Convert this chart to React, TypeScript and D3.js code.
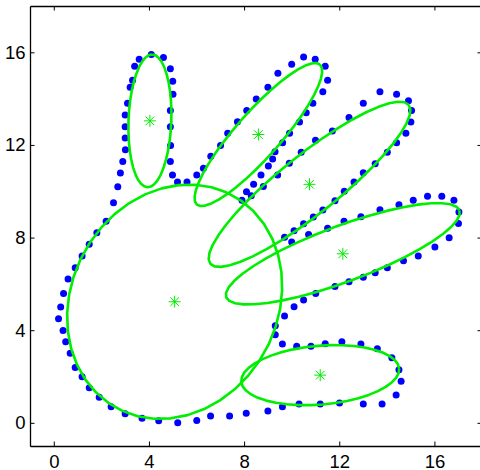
import { useEffect, useRef } from 'react';
import * as d3 from 'd3';

// hand outline points (blue dots), traced around the hand
const handX = [
  5.21, 4.41, 3.71, 3.0, 2.41, 1.91, 1.49, 1.19, 0.9, 0.69, 0.5, 0.39, 0.2, 0.29, 0.41, 0.6, 0.9, 1.19, 1.49, 1.81,
  2.2, 2.51, 2.69, 2.8, 2.9, 3.01, 3.0, 3.0, 3.0, 3.1, 3.21, 3.31, 3.4, 3.59, 4.1, 4.61, 4.9, 5.0, 5.01, 4.9,
  4.9, 4.91, 4.9, 4.99, 5.2, 5.6, 6.01, 6.29, 6.6, 7.01, 7.31, 7.72, 8.11, 8.51, 9.0, 9.42, 10.0, 10.5, 10.99, 11.41,
  11.51, 11.31, 10.89, 10.61, 10.33, 9.91, 9.62, 9.3, 9.2, 9.02, 8.71, 8.4, 8.1, 7.91,
  8.3, 8.81, 9.41, 9.9, 10.4, 11.0, 11.71, 12.41, 13.01, 13.71, 14.41, 14.91, 15.04, 15.01, 14.8, 14.41, 14.02, 13.51,
  13.01, 12.62, 12.21, 11.82, 11.31, 10.91, 10.5, 10.1, 9.7,
  10.0, 10.71, 11.51, 12.2, 12.91, 13.71, 14.51, 15.11, 15.71, 16.31, 16.82, 17.03, 17.01, 16.62, 16.02, 15.32, 14.7,
  14.02, 13.51, 13.01, 12.41, 11.82, 11.01, 10.5, 10.1, 9.7, 9.31, 9.31,
  9.61, 10.21, 10.81, 11.41, 12.11, 12.91, 13.6, 14.21, 14.51, 14.6, 14.39, 13.8, 13.01, 12.01, 11.2, 10.31, 9.61,
  9.0, 8.09, 7.39, 6.59, 6.01,
];
const handY = [
  0.0, 0.09, 0.2, 0.39, 0.69, 1.1, 1.51, 1.99, 2.39, 3.0, 3.5, 3.99, 4.49, 5.0, 5.59, 6.21, 6.7, 7.2, 7.71, 8.21,
  8.7, 9.5, 10.19, 10.79, 11.29, 11.79, 12.3, 12.79, 13.29, 13.8, 14.49, 14.79, 15.4, 15.7, 15.91, 15.78, 15.29, 14.75, 14.19, 13.49,
  12.79, 11.98, 11.29, 10.7, 10.4, 10.4, 10.7, 10.99, 11.51, 11.98, 12.5, 13.0, 13.49, 13.98, 14.49, 15.1, 15.49, 15.8, 15.7, 15.4,
  14.79, 14.3, 13.8, 13.39, 12.99, 12.5, 12.1, 11.71, 11.39, 11.09, 10.7, 10.3, 9.98, 9.61,
  9.81, 10.21, 10.7, 11.21, 11.69, 12.2, 12.6, 13.19, 13.8, 14.3, 14.19, 13.91, 13.49, 12.99, 12.5, 12.1, 11.69, 11.19,
  10.8, 10.4, 10.0, 9.59, 9.19, 8.89, 8.6, 8.3, 8.01,
  7.81, 8.13, 8.4, 8.7, 8.9, 9.2, 9.42, 9.61, 9.79, 9.79, 9.61, 9.1, 8.61, 7.99, 7.59, 7.2, 7.0,
  6.7, 6.48, 6.29, 6.09, 5.89, 5.59, 5.3, 5.01, 4.61, 4.19, 3.8,
  3.4, 3.31, 3.31, 3.41, 3.5, 3.4, 3.2, 2.81, 2.29, 1.8, 1.2, 0.81, 0.81, 0.86, 0.81, 0.81, 0.69,
  0.51, 0.41, 0.3, 0.3, 0.1,
];

// mixture components: centre, semi-axes, angle of major axis (degrees)
const compCx = [4.04, 8.6, 10.75, 12.15, 11.2, 5.08];
const compCy = [13.04, 12.45, 10.3, 7.3, 2.06, 5.23];
const compA = [2.87, 3.98, 5.4, 5.25, 3.33, 5.2];
const compB = [0.9, 0.95, 1.25, 1.2, 1.27, 4.36];
const compAngle = [88, 49.5, 39.5, 21, 5, 65];

const xTicks = [0, 4, 8, 12, 16];
const yTicks = [0, 4, 8, 12, 16];

const App = () => {
  const svgRef = useRef<SVGSVGElement>(null);

  useEffect(() => {
    const w = 480;
    const h = 470;
    const margin = { top: 6, bottom: 24, left: 30, right: -2 };

    const svg = d3.select(svgRef.current);
    svg.selectAll('*').remove();
    svg.attr('width', w).attr('height', h);

    const x = d3.scaleLinear().domain([-1, 18]).range([margin.left, w - margin.right]);
    const y = d3.scaleLinear().domain([-1, 18]).range([h - margin.bottom, margin.top]);

    // dots
    svg.append('g')
      .selectAll('circle')
      .data(d3.range(handX.length))
      .enter().append('circle')
      .attr('cx', i => x(handX[i]))
      .attr('cy', i => y(handY[i]))
      .attr('r', 3.5)
      .attr('fill', '#0000ff');

    // ellipses
    const line = d3.line<[number, number]>().x(d => x(d[0])).y(d => y(d[1]));
    const nSeg = 40;
    const eg = svg.append('g');
    compCx.forEach((cx, k) => {
      const th = (compAngle[k] * Math.PI) / 180;
      const pts: [number, number][] = d3.range(nSeg + 1).map(j => {
        const t = (2 * Math.PI * j) / nSeg;
        const u = compA[k] * Math.cos(t);
        const v = compB[k] * Math.sin(t);
        return [cx + u * Math.cos(th) - v * Math.sin(th), compCy[k] + u * Math.sin(th) + v * Math.cos(th)];
      });
      eg.append('path')
        .attr('d', line(pts))
        .attr('fill', 'none')
        .attr('stroke', '#00ee00')
        .attr('stroke-width', 2.6)
        .attr('stroke-linejoin', 'round');
    });

    // centre markers (asterisks)
    const r = 6;
    const q = r * 0.72;
    svg.append('g')
      .selectAll('path')
      .data(d3.range(compCx.length))
      .enter().append('path')
      .attr('transform', i => `translate(${x(compCx[i])},${y(compCy[i])})`)
      .attr('d', `M${-r},0L${r},0M0,${-r}L0,${r}M${-q},${-q}L${q},${q}M${-q},${q}L${q},${-q}`)
      .attr('stroke', '#00ee00')
      .attr('stroke-width', 1)
      .attr('fill', 'none');

    const font = "'Liberation Sans', Arial, Helvetica, sans-serif";
    const styleAxis = (g: any) => {
      g.attr('font-size', 18.5).attr('font-family', font);
      g.selectAll('path').attr('stroke-width', 1.3);
      g.selectAll('line').attr('stroke-width', 1);
      g.selectAll('text').attr('fill', '#000');
    };

    svg.append('g')
      .attr('transform', `translate(0, ${h - margin.bottom})`)
      .call(d3.axisBottom(x).tickValues(xTicks).tickSizeInner(-4.5).tickSizeOuter(0).tickPadding(9))
      .call(styleAxis);

    svg.append('g')
      .attr('transform', `translate(${margin.left}, 0)`)
      .call(d3.axisLeft(y).tickValues(yTicks).tickSizeInner(-4.5).tickSizeOuter(0).tickPadding(4.5))
      .call(styleAxis);

    svg.append('g')
      .attr('transform', `translate(0, ${margin.top})`)
      .call(d3.axisTop(x).tickValues(xTicks).tickSizeInner(-4.5).tickSizeOuter(0).tickFormat(() => ''))
      .call(styleAxis);

    svg.append('g')
      .attr('transform', `translate(${w - margin.right}, 0)`)
      .call(d3.axisRight(y).tickValues(yTicks).tickSizeInner(-4.5).tickSizeOuter(0).tickFormat(() => ''))
      .call(styleAxis);
  }, []);

  return (
    <svg
      ref={svgRef}
      width={480}
      height={470}
      style={{ position: 'absolute', left: 0, top: 0, background: '#fff' }}
    ></svg>
  );
};

export default App;
